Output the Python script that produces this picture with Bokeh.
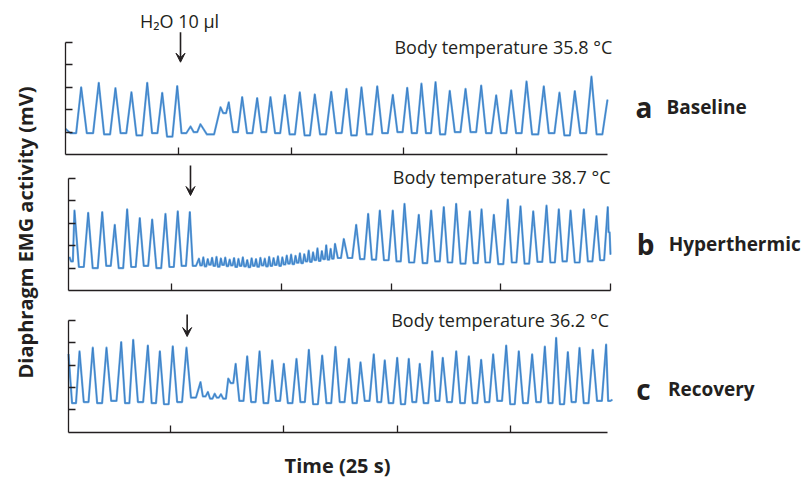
import math
from bokeh.plotting import figure
from bokeh.layouts import row, column
from bokeh.models import Label, Arrow, VeeHead, FixedTicker, Range1d
from bokeh.embed import file_html
from bokeh.resources import INLINE

# ---------------- data ----------------
# Panel a: Baseline, 35.8 C   (time in 25 s units, activity in mV ticks)
a_peak_t = [0.000, 0.139, 0.295, 0.443, 0.585, 0.725, 0.858, 0.991, 1.109, 1.197,
            1.375, 1.448, 1.567, 1.700, 1.818, 1.945, 2.078, 2.211, 2.357, 2.492,
            2.625, 2.765, 2.903, 3.031, 3.157, 3.282, 3.408, 3.548, 3.687, 3.820,
            3.953, 4.089, 4.242, 4.381, 4.517, 4.665, 4.807]
a_peak_v = [1.15, 3.00, 3.20, 2.96, 2.78, 3.20, 2.75, 3.05, 1.25, 1.35,
            2.11, 2.33, 2.56, 2.52, 2.56, 2.65, 2.77, 2.68, 2.80, 2.93,
            3.00, 3.04, 2.66, 2.98, 3.16, 3.23, 2.84, 2.93, 3.08, 2.64,
            2.86, 3.26, 3.04, 2.76, 2.83, 3.48, 2.45]
a_trough_v = [0.95, 0.95, 0.90, 0.95, 0.85, 0.95, 0.80, 0.95, 1.00, 0.90,
              1.85, 1.00, 0.95, 1.00, 0.95, 0.90, 0.85, 0.90, 0.95, 0.85,
              0.90, 0.95, 1.00, 0.95, 0.95, 0.90, 1.00, 1.00, 0.95, 0.95,
              0.95, 0.90, 0.95, 0.85, 0.95, 0.90]

# Panel b: Hyperthermic, 38.7 C
b_peak_t = [0.070, 0.116, 0.241, 0.369, 0.483, 0.596, 0.711, 0.824, 0.945, 1.057, 1.167,
            1.25, 1.29, 1.33, 1.37, 1.41, 1.45, 1.49, 1.53, 1.57, 1.61, 1.65, 1.69,
            1.73, 1.77, 1.81, 1.85, 1.89, 1.93, 1.97, 2.01, 2.05, 2.09, 2.13, 2.17,
            2.21, 2.25, 2.29, 2.33, 2.37, 2.41, 2.45, 2.49,
            2.570, 2.683, 2.792, 2.898, 3.016, 3.123, 3.253, 3.366, 3.481, 3.594,
            3.718, 3.825, 3.937, 4.064, 4.180, 4.296, 4.417, 4.529, 4.636, 4.757,
            4.872, 4.975, 5.000]
b_peak_v = [1.50, 3.57, 3.47, 3.50, 2.93, 3.62, 3.23, 3.17, 3.42, 3.53, 3.50,
            1.42, 1.48, 1.40, 1.46, 1.50, 1.43, 1.47, 1.38, 1.45, 1.41, 1.48, 1.36,
            1.44, 1.40, 1.46, 1.42, 1.50, 1.45, 1.52, 1.48, 1.56, 1.60, 1.55, 1.66,
            1.62, 1.78, 1.70, 1.88, 1.76, 2.02, 1.86, 2.08,
            2.30, 2.93, 3.42, 3.57, 3.57, 3.87, 3.38, 3.57, 3.72, 3.87,
            3.53, 3.62, 3.38, 4.06, 3.76, 3.53, 3.79, 3.62, 3.57, 3.62,
            3.32, 3.72, 1.60]
b_trough_v = [1.30, 1.05, 1.00, 1.10, 1.00, 1.05, 1.10, 1.00, 1.05, 1.10, 1.10,
              1.12, 1.08, 1.15, 1.10, 1.06, 1.14, 1.09, 1.12, 1.05, 1.10,
              1.08, 1.04, 1.10, 1.06, 1.12, 1.08, 1.10, 1.14, 1.10, 1.16,
              1.20, 1.18, 1.24, 1.22, 1.30, 1.28, 1.36, 1.32, 1.40, 1.38, 1.42,
              1.45,
              1.45, 1.40, 1.38, 1.35, 1.30, 1.25, 1.22, 1.30, 1.25, 1.20,
              1.22, 1.25, 1.18, 1.25, 1.20, 1.28, 1.25, 1.30, 1.25, 1.30,
              1.35, 2.60]

# Panel c: Recovery, 36.2 C
c_peak_t = [0.100, 0.197, 0.314, 0.435, 0.565, 0.671, 0.800, 0.906, 1.020, 1.141,
            1.265, 1.330, 1.390, 1.445, 1.510, 1.575,
            1.677, 1.786, 1.898, 2.000, 2.112, 2.221, 2.339, 2.456, 2.574, 2.677,
            2.794, 2.891, 3.001, 3.103, 3.200, 3.310, 3.403, 3.522, 3.633, 3.742,
            3.848, 3.963, 4.074, 4.192, 4.304, 4.404, 4.507, 4.610, 4.727, 4.845, 4.900]
c_peak_v = [3.50, 3.62, 3.78, 3.78, 4.03, 4.13, 3.88, 3.62, 3.84, 3.78,
            2.24, 1.80, 1.72, 1.70, 2.40, 3.06,
            3.39, 3.62, 3.21, 3.06, 3.28, 3.69, 3.43, 3.82, 3.28, 3.13,
            3.48, 3.21, 3.33, 3.28, 3.06, 3.62, 3.33, 3.62, 3.39, 3.24,
            3.48, 3.88, 3.62, 3.48, 3.83, 4.22, 3.58, 3.77, 3.69, 3.92, 1.45]
c_trough_v = [1.30, 1.35, 1.30, 1.40, 1.30, 1.35, 1.30, 1.25, 1.35,
              1.55, 1.60, 1.50, 1.55, 1.50, 2.20, 1.40,
              1.35, 1.30, 1.40, 1.30, 1.35, 1.25, 1.30, 1.35, 1.30, 1.40,
              1.35, 1.30, 1.25, 1.35, 1.30, 1.40, 1.35, 1.30, 1.30, 1.35,
              1.40, 1.25, 1.30, 1.35, 1.30, 1.25, 1.35, 1.30, 1.40, 1.40]

# axis extents (data units) and ticks
a_span, b_span, c_span = (0.0, 4.807), (0.061, 5.0), (0.100, 4.857)
a_xticks, b_xticks, c_xticks = [1, 2, 3, 4], [1, 2, 3, 4, 5], [1, 2, 3, 4]
y_span = (0, 5)
y_ticks = [1, 2, 3, 4, 5]
temps = ["Body temperature 35.8 °C", "Body temperature 38.7 °C", "Body temperature 36.2 °C"]
letters = ["a", "b", "c"]
names = ["Baseline", "Hyperthermic", "Recovery"]
injection_t = [1.02, 1.173, 1.147]

# ---------------- styling / layout ----------------
FONT = "Open Sans"
INK = "#231f20"
TRACE_LIGHT = "#6fa9de"
TRACE_DARK = "#2f76c0"
STRIP_W = 48
PANEL_W = 760


def trace(pt, pv, tv):
    assert len(pt) == len(pv) == len(tv) + 1
    t, v = [pt[0]], [pv[0]]
    for i in range(1, len(pt)):
        g = pt[i] - pt[i - 1]
        t += [pt[i - 1] + 0.32 * g, pt[i - 1] + 0.68 * g, pt[i]]
        v += [tv[i - 1], tv[i - 1], pv[i]]
    return t, v


def panel(top, height, x_org_px, x_org_val, x_unit_px, y0_px, y_unit_px, span, xticks):
    # ranges chosen so the panel frame covers the whole figure
    x_lo = x_org_val + (STRIP_W - x_org_px) / x_unit_px
    x_hi = x_org_val + (STRIP_W + PANEL_W - x_org_px) / x_unit_px
    y_hi = (y0_px - top) / y_unit_px
    y_lo = (y0_px - top - height) / y_unit_px
    p = figure(frame_width=PANEL_W, frame_height=height, x_range=Range1d(x_lo, x_hi),
               y_range=Range1d(y_lo, y_hi), output_backend="svg", toolbar_location=None,
               min_border=0)
    p.outline_line_color = None
    p.grid.visible = False
    for ax in (p.xaxis[0], p.yaxis[0]):
        ax.axis_line_color = INK
        ax.axis_line_width = 1.3
        ax.major_tick_line_color = INK
        ax.major_tick_line_width = 1.3
        ax.major_tick_in = 7
        ax.major_tick_out = 0
        ax.minor_tick_line_color = None
        ax.major_label_text_font_size = "0px"
        ax.major_label_text_color = None
        ax.major_label_standoff = 0
    xa, ya = p.xaxis[0], p.yaxis[0]
    xa.fixed_location = 0
    xa.bounds = span
    xa.ticker = FixedTicker(ticks=xticks)
    ya.fixed_location = span[0]
    ya.bounds = y_span
    ya.ticker = FixedTicker(ticks=y_ticks)
    return p


pa = panel(0, 160, 65, 0.0, 112.75, 154.0, 22.4, a_span, a_xticks)
pb = panel(160, 143, 171, 1.0, 109.75, 290.0, 22.4, b_span, b_xticks)
pc = panel(303, 178, 170, 1.0, 113.3, 431.7, 22.35, c_span, c_xticks)

panels = [pa, pb, pc]
data = [(a_peak_t, a_peak_v, a_trough_v), (b_peak_t, b_peak_v, b_trough_v),
        (c_peak_t, c_peak_v, c_trough_v)]
# text positions (data units of each panel)
temp_xy = [(4.849, 4.79), (5.0, 5.06), (4.87, 5.0)]
letter_x = [(5.055, 5.33), (5.24, 5.53), (5.11, 5.39)]
letter_y = [2.11, 2.08, 1.94]
arrow_y = [(5.46, 4.12), (5.58, 4.24), (5.27, 4.28)]

for i, p in enumerate(panels):
    t, v = trace(*data[i])
    p.line(t, v, line_color=TRACE_LIGHT, line_width=2.2, line_join="round")
    p.line(t, v, line_color=TRACE_DARK, line_width=1.0, line_join="round", line_alpha=0.8)
    p.add_layout(Label(x=temp_xy[i][0], y=temp_xy[i][1], text=temps[i], text_align="right",
                       text_baseline="middle", text_font=FONT, text_font_size="18px",
                       text_color=INK))
    p.add_layout(Label(x=letter_x[i][0], y=letter_y[i], text=letters[i], text_align="left",
                       text_baseline="alphabetic", text_font=FONT, text_font_size="28px",
                       text_font_style="bold", text_color=INK))
    p.add_layout(Label(x=letter_x[i][1], y=letter_y[i], text=names[i], text_align="left",
                       text_baseline="alphabetic", text_font=FONT, text_font_size="19px",
                       text_font_style="bold", text_color=INK))
    p.add_layout(Arrow(x_start=injection_t[i], y_start=arrow_y[i][0], x_end=injection_t[i],
                       y_end=arrow_y[i][1], line_color=INK, line_width=1.6,
                       end=VeeHead(size=9, fill_color=INK, line_color=INK, line_width=1)))

pa.add_layout(Label(x=1.011, y=5.98, text="H₂O 10 µl", text_align="center",
                    text_baseline="middle", text_font=FONT, text_font_size="18px",
                    text_color=INK))
pc.add_layout(Label(x=2.474, y=-1.47, text="Time (25 s)", text_align="center",
                    text_baseline="middle", text_font=FONT, text_font_size="20px",
                    text_font_style="bold", text_color=INK))

# y label strip
py = figure(frame_width=STRIP_W, frame_height=481, x_range=Range1d(0, 1), y_range=Range1d(0, 1),
            output_backend="svg", toolbar_location=None, min_border=0)
py.outline_line_color = None
py.grid.visible = False
py.axis.visible = False
py.add_layout(Label(x=25 / STRIP_W, y=1 - 232 / 481, text="Diaphragm EMG activity (mV)",
                    angle=math.pi / 2, text_align="center", text_baseline="middle",
                    text_font=FONT, text_font_size="20px", text_font_style="bold",
                    text_color=INK))

layout = row(py, column(pa, pb, pc, spacing=0), spacing=0)

open("out.html", "w").write(file_html(layout, INLINE))
